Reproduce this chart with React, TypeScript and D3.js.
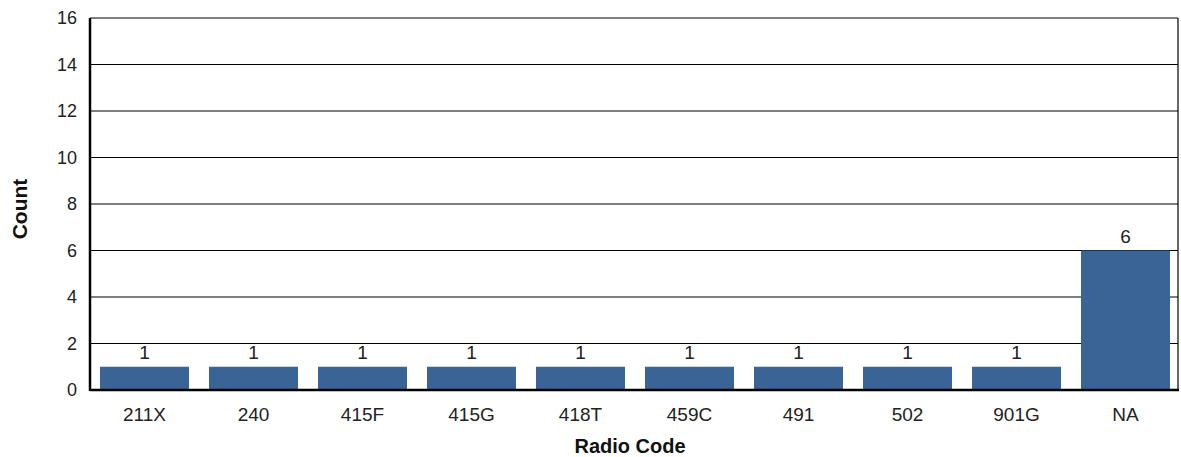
import React from "react";
import * as d3 from "d3";

const categories = ["211X", "240", "415F", "415G", "418T", "459C", "491", "502", "901G", "NA"];
const counts = [1, 1, 1, 1, 1, 1, 1, 1, 1, 6];
const yTicks = [0, 2, 4, 6, 8, 10, 12, 14, 16];

export default function App() {
  const W = 1181, H = 457;
  const left = 90, right = 1180, top = 18, bottom = 390;
  const x = d3.scaleBand<string>().domain(categories).range([left, right]).paddingInner(20 / 109).paddingOuter(10 / 109);
  const y = d3.scaleLinear().domain([0, 16]).range([bottom, top]);
  const font = "'Liberation Sans', Arial, sans-serif";
  return (
    <svg width={W} height={H} style={{ position: "absolute", left: 0, top: 0 }} fontFamily={font}>
      <rect width={W} height={H} fill="#fff" />
      {yTicks.map((t) => (
        <g key={t}>
          {t > 0 && <line x1={left} x2={1178} y1={y(t)} y2={y(t)} stroke="#000" strokeWidth={1.2} />}
          <text x={77} y={y(t)} dy="0.36em" textAnchor="end" fontSize={18} fill="#222">{t}</text>
        </g>
      ))}
      <line x1={1178} x2={1178} y1={top} y2={bottom} stroke="#000" strokeWidth={1.2} />
      {categories.map((c, i) => (
        <g key={c}>
          <rect x={x(c)} y={y(counts[i])} width={x.bandwidth()} height={bottom - y(counts[i])} fill="#3A6496" />
          <text x={(x(c) as number) + x.bandwidth() / 2} y={y(counts[i]) - 8} textAnchor="middle" fontSize={19} fill="#222">{counts[i]}</text>
          <text x={(x(c) as number) + x.bandwidth() / 2} y={421} textAnchor="middle" fontSize={19} fill="#222">{c}</text>
        </g>
      ))}
      <line x1={left} x2={1179} y1={bottom} y2={bottom} stroke="#000" strokeWidth={2.5} />
      <line x1={left} x2={left} y1={top} y2={bottom + 1} stroke="#000" strokeWidth={2.5} />
      <text x={630} y={453} textAnchor="middle" fontSize={20} fontWeight="bold" fill="#111">Radio Code</text>
      <text transform={`translate(27,209) rotate(-90)`} textAnchor="middle" fontSize={21} fontWeight="bold" fill="#111">Count</text>
    </svg>
  );
}
